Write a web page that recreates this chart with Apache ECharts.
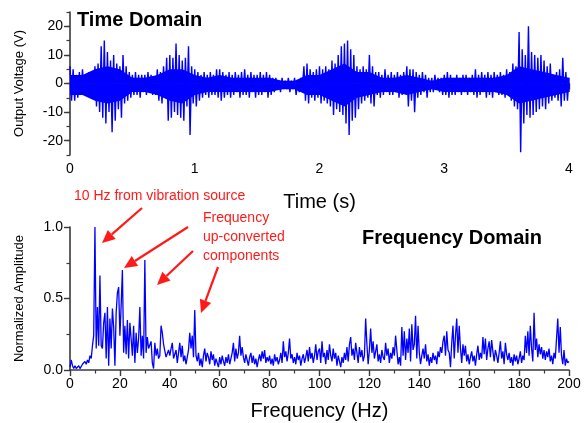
<!DOCTYPE html>
<html>
<head>
<meta charset="utf-8">
<script src="https://cdn.jsdelivr.net/npm/echarts@6/dist/echarts.min.js"></script>
<style>
  html, body { margin: 0; padding: 0; background: #fff; }
  #main { width: 585px; height: 423px; }
</style>
</head>
<body>
<div id="main"></div>
<script>
// time domain: upper / lower spike envelope of the voltage every 0.025 s (0 .. 4 s)
const timeStep = 0.025
const timeHi = [
  6, 5, 3, 4, 5, 3, 4, 2, 6, 7, 13, 15, 11, 8, 10, 7, 6, 10, 6, 4,
  3, 4, 3, 3, 3, 4, 3, 2, 5, 4, 6, 9, 10, 9, 14, 10, 8, 9, 13, 6,
  5, 4, 3, 4, 3, 4, 3, 5, 5, 4, 3, 4, 3, 4, 3, 4, 5, 3, 4, 3,
  3, 4, 3, 4, 3, 2, 2, 1, 2, 1, 2, 1, 2, 1, 2, 6, 7, 5, 4, 5,
  6, 5, 6, 5, 8, 7, 10, 13, 14, 15, 12, 10, 6, 5, 6, 5, 10, 6, 4, 4,
  3, 5, 3, 4, 3, 4, 3, 4, 6, 5, 5, 4, 3, 4, 3, 2, 2, 3, 2, 2,
  3, 4, 3, 2, 3, 2, 3, 3, 2, 3, 5, 3, 4, 3, 4, 3, 4, 3, 4, 3,
  5, 4, 7, 6, 18, 12, 10, 20, 11, 10, 9, 10, 8, 6, 7, 3, 4, 5, 9, 4,
  2
]
const timeLo = [
  -6, -6, -5, -4, -3, -4, -5, -4, -8, -10, -12, -14, -10, -17, -13, -9, -12, -7, -6, -5,
  -4, -4, -5, -3, -4, -3, -4, -4, -6, -7, -5, -13, -12, -10, -11, -12, -13, -8, -18, -7,
  -8, -6, -5, -4, -5, -4, -4, -5, -6, -5, -4, -5, -4, -3, -5, -4, -4, -5, -3, -5,
  -4, -4, -3, -5, -4, -3, -2, -3, -2, -2, -3, -2, -4, -3, -2, -6, -7, -5, -6, -5,
  -7, -6, -7, -8, -11, -9, -10, -11, -14, -18, -13, -12, -9, -7, -6, -5, -7, -8, -4, -5,
  -4, -3, -4, -4, -3, -5, -4, -3, -8, -6, -10, -5, -4, -3, -5, -3, -3, -2, -3, -4,
  -4, -5, -4, -4, -3, -4, -3, -4, -3, -4, -5, -4, -3, -5, -4, -5, -3, -4, -4, -5,
  -4, -6, -8, -9, -24, -14, -11, -12, -11, -10, -9, -8, -9, -7, -6, -5, -6, -8, -6, -6,
  -3
]
// dense core of the trace every 0.1 s
const coreStep = 0.1
const coreHi = [
  3, 3, 5, 6, 5, 2, 2, 3, 5, 5,
  3, 2, 3, 2, 2, 2, 2, 1, 1, 3,
  3, 5, 7, 4, 4, 2, 2, 3, 2, 1,
  2, 2, 2, 2, 2, 3, 6, 5, 4, 3,
  2
]
const coreLo = [
  -4, -4, -6, -7, -6, -3, -3, -4, -6, -7,
  -4, -3, -3, -3, -3, -3, -3, -2, -2, -4,
  -4, -6, -8, -5, -4, -3, -3, -4, -3, -2,
  -3, -3, -3, -3, -3, -4, -7, -6, -5, -4,
  -3
]
const voltTicks = [-20, -10, 0, 10, 20]

// frequency domain: normalized amplitude every 0.5 Hz (0 .. 200 Hz)
const freqStep = 0.5
const ampValues = [
  0.02, 0.07, 0.03, 0.01, 0.03, 0.01, 0.02, 0.03, 0.01, 0.02, 0.04, 0.03, 0.06, 0.04, 0.07, 0.05, 0.10, 0.08, 0.17, 0.24,
  1.00, 0.15, 0.44, 0.17, 0.66, 0.17, 0.15, 0.33, 0.40, 0.08, 0.44, 0.03, 0.36, 0.15, 0.43, 0.30, 0.03, 0.40, 0.54, 0.58,
  0.24, 0.45, 0.70, 0.12, 0.31, 0.11, 0.35, 0.08, 0.33, 0.22, 0.10, 0.31, 0.05, 0.26, 0.12, 0.22, 0.44, 0.10, 0.24, 0.08,
  0.77, 0.12, 0.23, 0.15, 0.14, 0.20, 0.05, 0.01, 0.19, 0.10, 0.15, 0.08, 0.10, 0.31, 0.26, 0.18, 0.19, 0.09, 0.08, 0.14,
  0.10, 0.15, 0.19, 0.08, 0.11, 0.14, 0.05, 0.12, 0.19, 0.09, 0.17, 0.06, 0.10, 0.04, 0.03, 0.14, 0.26, 0.15, 0.24, 0.09,
  0.42, 0.10, 0.06, 0.12, 0.03, 0.08, 0.02, 0.10, 0.15, 0.06, 0.12, 0.09, 0.04, 0.13, 0.07, 0.11, 0.03, 0.08, 0.05, 0.02,
  0.09, 0.04, 0.10, 0.06, 0.03, 0.09, 0.05, 0.11, 0.04, 0.08, 0.12, 0.19, 0.06, 0.15, 0.08, 0.12, 0.24, 0.10, 0.16, 0.09,
  0.05, 0.11, 0.07, 0.03, 0.09, 0.12, 0.05, 0.10, 0.04, 0.08, 0.02, 0.07, 0.11, 0.06, 0.13, 0.08, 0.14, 0.05, 0.09, 0.06,
  0.10, 0.04, 0.08, 0.03, 0.11, 0.06, 0.09, 0.04, 0.07, 0.12, 0.05, 0.20, 0.09, 0.13, 0.06, 0.12, 0.22, 0.08, 0.11, 0.05,
  0.09, 0.04, 0.12, 0.07, 0.10, 0.03, 0.08, 0.11, 0.05, 0.09, 0.14, 0.06, 0.16, 0.08, 0.12, 0.05, 0.10, 0.18, 0.07, 0.13,
  0.15, 0.05, 0.20, 0.09, 0.12, 0.04, 0.14, 0.07, 0.18, 0.10, 0.06, 0.15, 0.08, 0.12, 0.03, 0.10, 0.06, 0.02, 0.09, 0.05,
  0.12, 0.07, 0.16, 0.06, 0.18, 0.23, 0.10, 0.15, 0.07, 0.19, 0.12, 0.05, 0.16, 0.09, 0.14, 0.06, 0.10, 0.36, 0.18, 0.04,
  0.14, 0.29, 0.12, 0.20, 0.08, 0.13, 0.18, 0.06, 0.11, 0.05, 0.14, 0.09, 0.07, 0.19, 0.10, 0.15, 0.05, 0.12, 0.08, 0.16,
  0.10, 0.24, 0.14, 0.04, 0.09, 0.03, 0.30, 0.10, 0.27, 0.07, 0.22, 0.12, 0.29, 0.06, 0.32, 0.14, 0.18, 0.38, 0.08, 0.31,
  0.12, 0.04, 0.10, 0.15, 0.08, 0.18, 0.06, 0.11, 0.03, 0.09, 0.05, 0.12, 0.07, 0.10, 0.04, 0.13, 0.09, 0.16, 0.12, 0.20,
  0.24, 0.10, 0.27, 0.14, 0.12, 0.02, 0.19, 0.31, 0.08, 0.24, 0.36, 0.12, 0.31, 0.15, 0.05, 0.18, 0.10, 0.17, 0.06, 0.11,
  0.04, 0.09, 0.13, 0.06, 0.10, 0.03, 0.11, 0.17, 0.07, 0.12, 0.08, 0.23, 0.11, 0.22, 0.07, 0.15, 0.20, 0.09, 0.21, 0.13,
  0.06, 0.14, 0.10, 0.05, 0.12, 0.20, 0.08, 0.13, 0.04, 0.19, 0.11, 0.07, 0.12, 0.05, 0.09, 0.03, 0.11, 0.06, 0.10, 0.04,
  0.08, 0.13, 0.05, 0.10, 0.07, 0.24, 0.12, 0.27, 0.10, 0.31, 0.15, 0.06, 0.40, 0.14, 0.22, 0.09, 0.18, 0.11, 0.16, 0.08,
  0.14, 0.07, 0.13, 0.09, 0.15, 0.06, 0.10, 0.04, 0.12, 0.08, 0.22, 0.36, 0.12, 0.30, 0.10, 0.04, 0.14, 0.03, 0.08, 0.05,
  0.06
]

const FONT = '"Liberation Sans", Arial, sans-serif'
const AXIS = '#3a3a3a'
const BLUE = '#0000ff'
const RED = '#ff1a1a'

// voltage trace: alternate upper/lower value inside each time bin
let timeData = []
timeHi.forEach((hi, i) => {
  let t = i * timeStep
  timeData.push([t, hi])
  timeData.push([Math.min(t + timeStep / 2, 4), timeLo[i]])
})
let coreHiData = coreHi.map((v, i) => [i * coreStep, v])
let coreLoData = coreLo.map((v, i) => [i * coreStep, v])
let freqData = ampValues.map((a, i) => [i * freqStep, a])

function axisCommon() {
  return {
    axisLine: { show: true, lineStyle: { color: AXIS, width: 1.6 } },
    axisTick: { show: true, length: 6, lineStyle: { color: AXIS, width: 1.4 } },
    minorTick: { show: true, splitNumber: 2, length: 3.5, lineStyle: { color: AXIS, width: 1.2 } },
    splitLine: { show: false },
    minorSplitLine: { show: false },
    axisLabel: { color: '#000', fontSize: 14, fontFamily: FONT, margin: 7 }
  }
}

// red arrows (annotation, pixel positions)
function arrow(x1, y1, x2, y2) {
  let a = Math.atan2(y2 - y1, x2 - x1)
  let L = 13, W = 6
  let bx = x2 - L * Math.cos(a), by = y2 - L * Math.sin(a)
  return [
    { type: 'line', shape: { x1: x1, y1: y1, x2: bx, y2: by }, style: { stroke: RED, lineWidth: 2.2 }, z: 100 },
    { type: 'polygon', shape: { points: [[x2, y2], [bx + W * Math.sin(a), by - W * Math.cos(a)], [bx - W * Math.sin(a), by + W * Math.cos(a)]] }, style: { fill: RED }, z: 100 }
  ]
}

function label(text, left, top, size, color, weight) {
  return {
    type: 'text', left: left, top: top, z: 100,
    style: { text: text, fill: color, fontSize: size, fontFamily: FONT, fontWeight: weight || 'normal' }
  }
}

function coreSeries(data) {
  return {
    type: 'line', xAxisIndex: 0, yAxisIndex: 0, data: data,
    showSymbol: false, silent: true,
    lineStyle: { width: 0 }, areaStyle: { color: BLUE, opacity: 1, origin: 0 }
  }
}

let chart = echarts.init(document.getElementById('main'), null, { renderer: 'canvas' })

let option = {
  backgroundColor: '#fff',
  animation: false,
  grid: [
    { left: 70, right: 16, top: 12, height: 143 },
    { left: 70, right: 16, top: 227, height: 143 }
  ],
  xAxis: [
    Object.assign(axisCommon(), {
      type: 'value', gridIndex: 0, min: 0, max: 4, interval: 1,
      name: 'Time (s)', nameLocation: 'middle', nameGap: 37,
      nameTextStyle: { fontSize: 20, fontFamily: FONT, color: '#000' }
    }),
    Object.assign(axisCommon(), {
      type: 'value', gridIndex: 1, min: 0, max: 200, interval: 20,
      name: 'Frequency (Hz)', nameLocation: 'middle', nameGap: 31,
      nameTextStyle: { fontSize: 20, fontFamily: FONT, color: '#000' }
    })
  ],
  yAxis: [
    Object.assign(axisCommon(), {
      type: 'value', gridIndex: 0, min: -25, max: 25, interval: 5,
      minorTick: { show: false },
      axisTick: { show: true, length: 6, customValues: voltTicks, lineStyle: { color: AXIS, width: 1.4 } },
      axisLabel: { color: '#000', fontSize: 14, fontFamily: FONT, margin: 7, customValues: voltTicks },
      name: 'Output Voltage (V)', nameLocation: 'middle', nameGap: 44,
      nameTextStyle: { fontSize: 13, fontFamily: FONT, color: '#000' }
    }),
    Object.assign(axisCommon(), {
      type: 'value', gridIndex: 1, min: 0, max: 1, interval: 0.5,
      axisLabel: { color: '#000', fontSize: 14, fontFamily: FONT, margin: 7, formatter: v => v.toFixed(1) },
      name: 'Normalized Amplitude', nameLocation: 'middle', nameGap: 44,
      nameTextStyle: { fontSize: 13, fontFamily: FONT, color: '#000' }
    }),
    {
      // minor ticks every 5 V on the time-domain axis
      type: 'value', gridIndex: 0, min: -25, max: 25, interval: 5, position: 'left',
      axisLine: { show: false }, axisLabel: { show: false }, splitLine: { show: false },
      axisTick: { show: true, length: 3.5, lineStyle: { color: AXIS, width: 1.2 } }
    }
  ],
  series: [
    coreSeries(coreHiData),
    coreSeries(coreLoData),
    {
      type: 'line', xAxisIndex: 0, yAxisIndex: 0, data: timeData,
      showSymbol: false, lineStyle: { color: BLUE, width: 1.4 }, silent: true
    },
    {
      type: 'line', xAxisIndex: 1, yAxisIndex: 1, data: freqData,
      showSymbol: false, lineStyle: { color: BLUE, width: 1.3 }, silent: true
    }
  ],
  graphic: [
    label('Time Domain', 77, 10, 20, '#000', 'bold'),
    label('Frequency Domain', 362, 228, 20, '#000', 'bold'),
    label('10 Hz from vibration source', 74, 189, 14, RED),
    label('Frequency', 203, 211, 14, RED),
    label('up-converted', 203, 230, 14, RED),
    label('components', 203, 249, 14, RED)
  ]
    .concat(arrow(142, 208, 102, 243))
    .concat(arrow(188, 227, 124, 268))
    .concat(arrow(193, 251, 157, 285))
    .concat(arrow(218, 267, 201, 313))
}

chart.setOption(option)
</script>
</body>
</html>
